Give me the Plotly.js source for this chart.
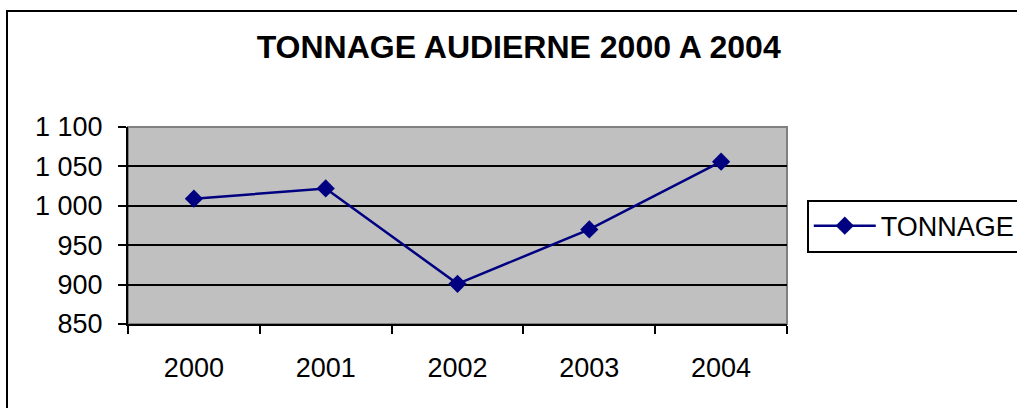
<!DOCTYPE html>
<html>
<head>
<meta charset="utf-8">
<script src="https://cdn.plot.ly/plotly-3.0.1.min.js"></script>
<style>html,body{margin:0;padding:0;background:#fff;} #chart{width:1017px;height:408px;}</style>
</head>
<body>
<div id="chart"></div>
<script>
const years = ["2000", "2001", "2002", "2003", "2004"];
const tonnage = [1009, 1022, 901, 970, 1056];
const yTickVals = [850, 900, 950, 1000, 1050, 1100];
const yTickText = ["850", "900", "950", "1 000", "1 050", "1 100"];
const seriesName = "TONNAGE";
const chartTitle = "TONNAGE AUDIERNE 2000 A 2004";

const font = "Liberation Sans, Arial, sans-serif";

const trace = {
  x: years,
  y: tonnage,
  type: "scatter",
  mode: "lines+markers",
  name: seriesName,
  line: {color: "#000080", width: 2.5},
  marker: {symbol: "diamond", size: 14, color: "#000080"},
  hoverinfo: "x+y"
};

const layout = {
  width: 1017,
  height: 408,
  margin: {l: 128, r: 230, t: 127, b: 84, autoexpand: false},
  paper_bgcolor: "#ffffff",
  plot_bgcolor: "#c0c0c0",
  font: {family: font, size: 27, color: "#000"},
  title: {
    text: "<b>" + chartTitle + "</b>",
    font: {family: font, size: 32, color: "#000"},
    x: 0.51, xanchor: "center",
    y: 0.885, yanchor: "middle"
  },
  xaxis: {
    type: "category",
    range: [-0.5, 4.5],
    tickson: "boundaries",
    ticks: "outside",
    ticklen: 8,
    tickwidth: 2,
    tickcolor: "#000",
    showline: true,
    linecolor: "#000",
    linewidth: 2,
    showgrid: false,
    zeroline: false,
    ticklabelstandoff: 19,
    tickfont: {family: font, size: 27, color: "#000"}
  },
  yaxis: {
    range: [850, 1100],
    tickvals: yTickVals,
    ticktext: yTickText,
    ticks: "outside",
    ticklen: 8,
    tickwidth: 2,
    tickcolor: "#000",
    showline: true,
    linecolor: "#000",
    linewidth: 2,
    showgrid: true,
    gridcolor: "#000",
    gridwidth: 2,
    zeroline: false,
    ticklabelstandoff: 10,
    tickfont: {family: font, size: 27, color: "#000"}
  },
  showlegend: true,
  legend: {
    x: 1.03, xanchor: "left",
    y: 0.497, yanchor: "middle",
    bordercolor: "#000",
    borderwidth: 2,
    bgcolor: "#fff",
    font: {family: font, size: 27, color: "#000"},
    itemwidth: 62
  },
  shapes: [
    {type: "rect", xref: "paper", yref: "paper", x0: 0, x1: 1, y0: 0, y1: 1,
     line: {color: "#808080", width: 2}, fillcolor: "rgba(0,0,0,0)", layer: "below"},
    {type: "rect", xref: "paper", yref: "paper", x0: -0.1836, x1: 1.36, y0: -0.45, y1: 1.589,
     line: {color: "#000", width: 2}, fillcolor: "rgba(0,0,0,0)"}
  ]
};

Plotly.newPlot("chart", [trace], layout, {displayModeBar: false, staticPlot: true});
</script>
</body>
</html>
